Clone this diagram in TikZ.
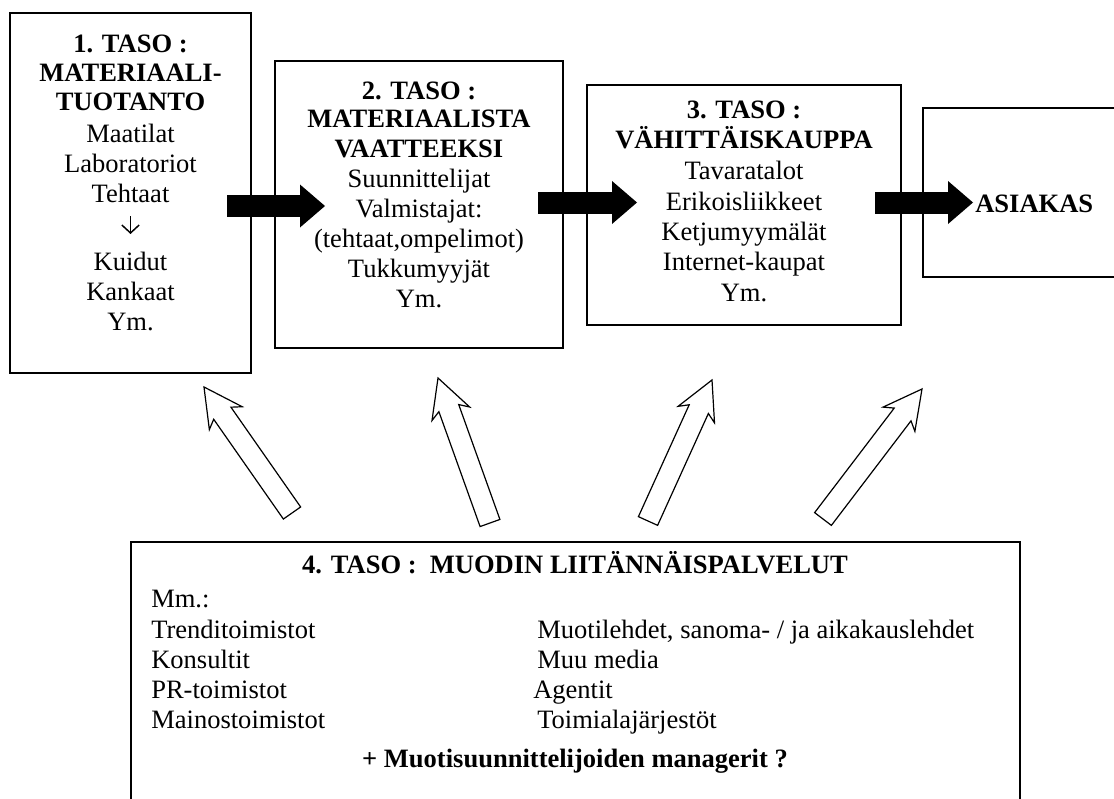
\documentclass[tikz,border=0pt]{standalone}
\usepackage{fontspec}
\setmainfont{Liberation Serif}
\usetikzlibrary{arrows.meta,calc}

\tikzset{
  box/.style={draw=black, line width=1.2pt},
  boxtext/.style={align=center, inner sep=0pt, anchor=north, font=\fontsize{19.9}{22.5}\selectfont},
  listtext/.style={align=left, inner sep=0pt, anchor=north west, font=\fontsize{19.9}{22.5}\selectfont},
  linetext/.style={inner sep=0pt, anchor=base, font=\fontsize{19.9}{22.5}\selectfont\bfseries},
  bigarrow/.style={line width=16.5pt, -{Triangle[length=18.75pt, width=32.25pt, line width=0pt]}},
  thinarrow/.style={line width=1.1pt, -{Straight Barb[length=6pt, width=13pt, line width=1.1pt]}},
  hollowarrow/.style={draw=black, line width=0.9pt, fill=white, line join=miter},
}

\begin{document}
\begin{tikzpicture}[x=0.75pt, y=0.75pt]
\clip (0,0) rectangle (1114,-799);
\fill[white] (0,0) rectangle (1114,-799);

\draw[box] (10,-13) rectangle (251,-373);
\draw[box] (275,-61) rectangle (563,-348);
\draw[box] (587,-85) rectangle (901,-325);
\draw[box] (923,-108) rectangle (1130,-277);
\draw[box] (131,-542) rectangle (1020,-830);

\node[boxtext] (taso1) at (130.5,-35) {\textbf{1. TASO :}\\[-1pt] \textbf{MATERIAALI-}\\[-1pt] \textbf{TUOTANTO}\\[1.5pt] Maatilat\\ Laboratoriot\\ Tehtaat\\[28.5pt] Kuidut\\ Kankaat\\ Ym.};
\coordinate (nuoli1) at (130.5,-216);
\coordinate (nuoli2) at (130.5,-234);
\draw[thinarrow] (nuoli1) -- (nuoli2);

\node[boxtext] (taso2) at (419,-82) {\textbf{2. TASO :}\\[-2pt] \textbf{MATERIAALISTA}\\ \textbf{VAATTEEKSI}\\ Suunnittelijat\\ Valmistajat:\\ (tehtaat,ompelimot)\\ Tukkumyyjät\\ Ym.};
\node[boxtext] (taso3) at (744,-101) {\textbf{3. TASO :}\\ \textbf{VÄHITTÄISKAUPPA}\\[0.5pt] Tavaratalot\\[0.5pt] Erikoisliikkeet\\ Ketjumyymälät\\[0.5pt] Internet-kaupat\\[0.5pt] Ym.};
\node[linetext, anchor=base west] (asiakas) at (975,-212) {ASIAKAS};

\coordinate (a1s) at (227,-206);
\coordinate (a1e) at (325,-206);
\coordinate (a2s) at (538,-202.5);
\coordinate (a2e) at (637,-202.5);
\coordinate (a3s) at (875,-202.5);
\coordinate (a3e) at (973,-202.5);
\draw[bigarrow] (a1s) -- (a1e);
\draw[bigarrow] (a2s) -- (a2e);
\draw[bigarrow] (a3s) -- (a3e);

\node[linetext] (taso4) at (575,-573) {4. TASO :~ MUODIN LIITÄNNÄISPALVELUT};
\node[listtext] (vasen) at (151,-590) {Mm.:\\[0.5pt] Trenditoimistot\\ Konsultit\\ PR-toimistot\\ Mainostoimistot};
\node[listtext] (oikea) at (537,-620) {Muotilehdet, sanoma- / ja aikakauslehdet\\ Muu media\\ \kern-3pt Agentit\\ Toimialajärjestöt};
\node[linetext] (managerit) at (575,-767) {+ Muotisuunnittelijoiden managerit ?};

\coordinate (b1) at (292,-513); \coordinate (t1) at (204,-387);
\coordinate (b2) at (490,-523); \coordinate (t2) at (438,-378);
\coordinate (b3) at (648,-521); \coordinate (t3) at (712,-380);
\coordinate (b4) at (823,-519); \coordinate (t4) at (922,-389);
\foreach \i in {1,...,4}{
  \coordinate (n\i) at ($(t\i)!24pt!(b\i)$);
  \coordinate (h\i) at ($(t\i)!28.5pt!(b\i)$);
  \draw[hollowarrow] ($(b\i)!7.9pt!90:(t\i)$) -- ($(n\i)!7.9pt!90:(t\i)$) -- ($(h\i)!15pt!90:(t\i)$) -- (t\i)
    -- ($(h\i)!15pt!-90:(t\i)$) -- ($(n\i)!7.9pt!-90:(t\i)$) -- ($(b\i)!7.9pt!-90:(t\i)$) -- cycle;
}

\end{tikzpicture}
\end{document}
